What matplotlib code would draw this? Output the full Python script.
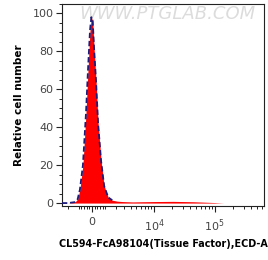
import numpy as np
import matplotlib
matplotlib.use("Agg")
import matplotlib.pyplot as plt
from matplotlib.ticker import FixedLocator, MultipleLocator

# fluorescence values (bin centres) and relative cell counts
intensity = [-2700, -2000, -1342, -1100, -915, -676, -446, -296, -147, -50,
             50, 147, 296, 446, 676, 915, 1254, 1622, 2127, 2729,
             4237, 6411, 10000, 20660, 44550, 96000, 140700, 200000]
counts = [0, 0, 0.5, 2, 7, 20, 47, 70, 91, 98,
          96, 82, 64, 42, 22, 9, 3, 1.5, 1, 0.8,
          0.6, 0.7, 0.8, 0.9, 0.7, 0.3, 0, 0]

major_x = [0, 1e4, 1e5]
major_labels = ["0", "$10^4$", "$10^5$"]
minor_x = [-2000, -1000, -800, -600, -400, -200, 200, 400, 600, 800, 1000,
           2000, 3000, 4000, 5000, 6000, 7000, 8000, 9000,
           20000, 30000, 40000, 50000, 60000, 70000, 80000, 90000,
           200000, 300000, 400000, 500000, 600000]

C = 1920.0


def fwd(x):
    return np.arcsinh(np.asarray(x, dtype=float) / C)


def inv(y):
    return C * np.sinh(np.asarray(y, dtype=float))


fig = plt.figure(figsize=(2.68, 2.60), dpi=100)
ax = fig.add_axes([0.231, 0.208, 0.754, 0.777])
ax.set_xscale("function", functions=(fwd, inv))

ax.fill_between(intensity, counts, 0, color="#ff0000", lw=0, zorder=2)
ax.plot(intensity[:18], counts[:18], color="#1c1c7a", lw=1.3,
        ls=(0, (3, 1.5)), zorder=3)

ax.set_xlim(-2700, 650000)
ax.set_ylim(-1.5, 105)

ax.xaxis.set_major_locator(FixedLocator(major_x))
ax.set_xticklabels(major_labels)
ax.xaxis.set_minor_locator(FixedLocator(minor_x))
ax.yaxis.set_major_locator(MultipleLocator(20))
ax.yaxis.set_minor_locator(MultipleLocator(5))

ax.tick_params(axis="both", which="major", direction="out", length=4,
               width=0.8, labelsize=8, labelcolor="#444444", color="#222222")
ax.tick_params(axis="both", which="minor", direction="out", length=2,
               width=0.7, color="#222222")
ax.tick_params(axis="x", which="major", pad=4)
ax.tick_params(axis="y", which="major", pad=2)

for s in ax.spines.values():
    s.set_linewidth(0.8)
    s.set_color("#222222")

ax.set_ylabel("Relative cell number", fontsize=7.5, fontweight="bold", labelpad=6)
ax.set_xlabel("CL594-FcA98104(Tissue Factor),ECD-A", fontsize=6.9,
              fontweight="bold", labelpad=4)

ax.text(0.52, 0.95, "WWW.PTGLAB.COM", transform=ax.transAxes, ha="center",
        va="center", fontsize=13, color="#dcdcdc", style="italic", zorder=1)

fig.savefig("out.png", dpi=100)
